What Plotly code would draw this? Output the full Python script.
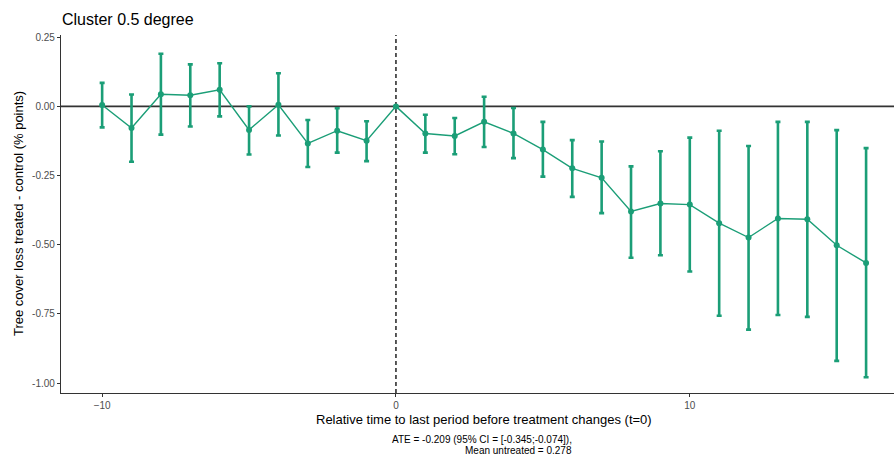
import plotly.graph_objects as go

rel_time = list(range(-10, 17))
estimate = [0.005, -0.078, 0.044, 0.04, 0.06, -0.085, 0.006, -0.134, -0.088, -0.124, 0.0,
            -0.098, -0.107, -0.056, -0.098, -0.156, -0.224, -0.258, -0.38, -0.351, -0.355,
            -0.422, -0.474, -0.405, -0.408, -0.502, -0.566]
ci_upper = [0.085, 0.043, 0.19, 0.152, 0.156, 0.0, 0.12, -0.049, -0.007, -0.054, 0.0,
            -0.03, -0.042, 0.035, -0.006, -0.056, -0.122, -0.127, -0.217, -0.162, -0.113,
            -0.088, -0.143, -0.056, -0.056, -0.086, -0.151]
ci_lower = [-0.076, -0.2, -0.102, -0.073, -0.036, -0.174, -0.105, -0.219, -0.167, -0.198, 0.0,
            -0.167, -0.173, -0.147, -0.187, -0.254, -0.327, -0.386, -0.547, -0.538, -0.597,
            -0.757, -0.807, -0.754, -0.761, -0.92, -0.979]
y_ticks = [0.25, 0.0, -0.25, -0.5, -0.75, -1.0]
y_tick_labels = ["0.25", "0.00", "-0.25", "-0.50", "-0.75", "-1.00"]
x_ticks = [-10, 0, 10]

err_plus = [u - e for u, e in zip(ci_upper, estimate)]
err_minus = [e - l for e, l in zip(estimate, ci_lower)]

W, H = 896, 459
L, R, T, B = 61, 2, 35, 66
PW, PH = W - L - R, H - T - B

def px_x(p):
    return (p - L) / PW

def px_y(p):
    return (H - B - p) / PH

green = "#1B9E77"
fig = go.Figure()
fig.add_trace(go.Scatter(
    x=rel_time, y=estimate, mode="lines+markers",
    line=dict(color=green, width=1.4),
    marker=dict(color=green, size=6),
    error_y=dict(type="data", symmetric=False, array=err_plus, arrayminus=err_minus,
                 color=green, thickness=2.6, width=2.5),
    showlegend=False,
))
fig.add_shape(type="line", xref="paper", x0=0, x1=1, yref="y", y0=0, y1=0,
              line=dict(color="#333333", width=1.8), layer="below")
fig.add_shape(type="line", xref="x", x0=0, x1=0, yref="paper", y0=0, y1=1,
              line=dict(color="black", width=1.3, dash="4px,3px"), layer="below")

font = "Liberation Sans, Arial, sans-serif"
fig.update_layout(
    width=W, height=H,
    margin=dict(l=L, r=R, t=T, b=B, autoexpand=False),
    plot_bgcolor="white", paper_bgcolor="white",
    font=dict(family=font),
    xaxis=dict(range=[-11.4, 16.95], tickvals=x_ticks, showgrid=False, zeroline=False,
               showline=True, linecolor="#333333", linewidth=1.2, ticks="outside", ticklen=3,
               tickcolor="#333333", tickfont=dict(size=10, color="#4d4d4d"), automargin=False),
    yaxis=dict(range=[-1.036, 0.258], tickvals=y_ticks, ticktext=y_tick_labels, showgrid=False,
               zeroline=False, showline=True, linecolor="#333333", linewidth=1.2,
               ticks="outside", ticklen=3, tickcolor="#333333",
               tickfont=dict(size=10, color="#4d4d4d"), automargin=False),
)
fig.add_annotation(text="Cluster 0.5 degree", xref="paper", yref="paper",
                   x=px_x(60), y=px_y(19), xanchor="left", yanchor="middle",
                   showarrow=False, font=dict(size=16, color="black"))
fig.add_annotation(text="Tree cover loss treated - control (% points)", xref="paper", yref="paper",
                   x=px_x(18), y=px_y(214), xanchor="center", yanchor="middle", textangle=-90,
                   showarrow=False, font=dict(size=13, color="black"))
fig.add_annotation(text="Relative time to last period before treatment changes (t=0)",
                   xref="paper", yref="paper", x=px_x(484), y=px_y(419),
                   xanchor="center", yanchor="middle",
                   showarrow=False, font=dict(size=13, color="black"))
fig.add_annotation(text="ATE = -0.209 (95% CI = [-0.345;-0.074]),", xref="paper", yref="paper",
                   x=px_x(482), y=px_y(439), xanchor="center", yanchor="middle",
                   showarrow=False, font=dict(size=10, color="black"))
fig.add_annotation(text="Mean untreated = 0.278", xref="paper", yref="paper",
                   x=px_x(518), y=px_y(450), xanchor="center", yanchor="middle",
                   showarrow=False, font=dict(size=10, color="black"))
fig.write_html("out.html", config={"displayModeBar": False},
               post_script="document.body.style.margin='0';document.body.style.overflow='hidden';")
